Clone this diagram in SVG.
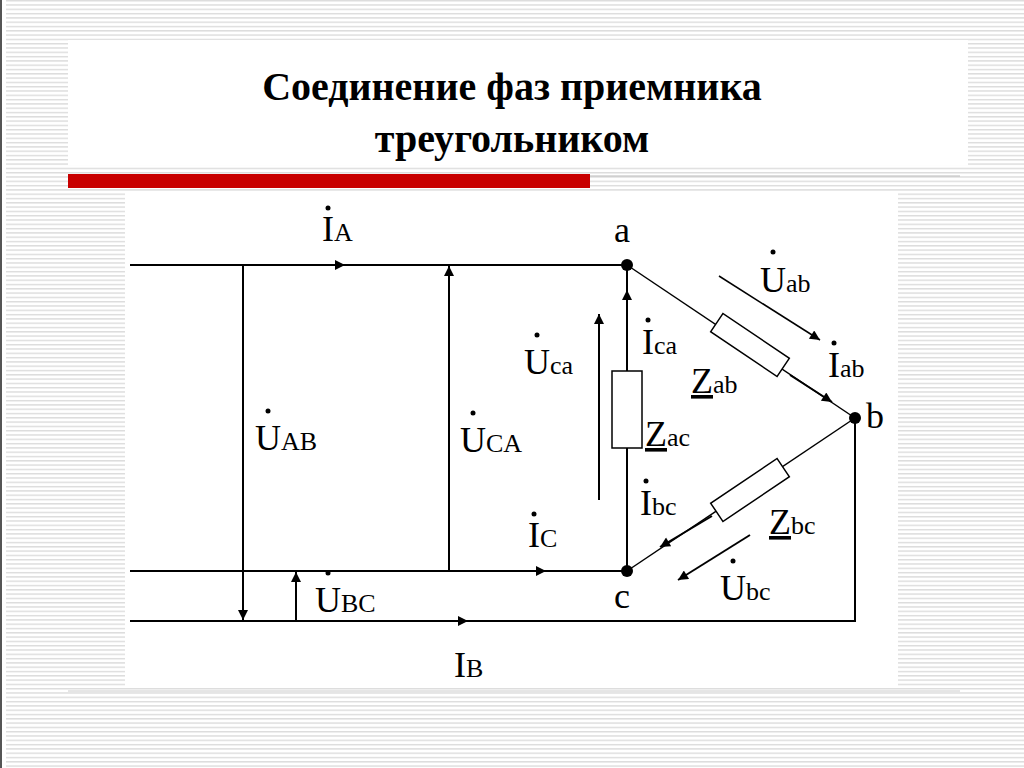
<svg xmlns="http://www.w3.org/2000/svg" width="1024" height="768" viewBox="0 0 1024 768">
<defs>
<pattern id="hatch" width="8" height="4.3" patternUnits="userSpaceOnUse"><rect width="8" height="4.3" fill="#fff"/><rect y="0" width="8" height="1.4" fill="#dcdcdc"/></pattern>
<marker id="ah" viewBox="0 0 10 10" refX="10" refY="5" markerWidth="14" markerHeight="10" markerUnits="userSpaceOnUse" orient="auto"><path d="M0,0 L10,5 L0,10 Z" fill="#000"/></marker>
<style>
.w{stroke:#000;stroke-width:2;fill:none}
.t{stroke:#000;stroke-width:1.5;fill:none}
.r{stroke:#000;stroke-width:1.5;fill:#fff}
.s{font-size:26px}
</style>
</defs>
<rect width="1024" height="768" fill="url(#hatch)"/>
<rect x="0" y="0" width="6" height="768" fill="#fff"/>
<rect x="0" y="0" width="2" height="768" fill="#555"/>
<rect x="68" y="40" width="900" height="125" fill="#fff"/>
<g font-family="Liberation Serif, 'Times New Roman', serif" font-size="40" font-weight="bold" text-anchor="middle" fill="#000">
<text x="512" y="100">Соединение фаз приемника</text>
<text x="512" y="152">треугольником</text>
</g>
<line x1="68" y1="176" x2="960" y2="176" stroke="#bbb" stroke-width="1"/>
<rect x="68" y="174" width="522" height="14" fill="#c80000"/>
<rect x="125" y="192" width="773" height="494" fill="#fff"/>
<line x1="68" y1="691" x2="960" y2="691" stroke="#ccc" stroke-width="1"/>
<g id="connectors">
<line class="w" x1="130" y1="265" x2="627" y2="265"/>
<line class="w" x1="130" y1="571" x2="627" y2="571"/>
<polyline class="w" points="130,621 855,621 855,418"/>
<line class="w" x1="627" y1="265" x2="627" y2="571"/>
<line class="t" x1="627" y1="265" x2="855" y2="418"/>
<line class="t" x1="855" y1="418" x2="627" y2="571"/>
<line class="w" x1="320" y1="265" x2="345" y2="265" marker-end="url(#ah)"/>
<line class="w" x1="520" y1="571" x2="546" y2="571" marker-end="url(#ah)"/>
<line class="w" x1="440" y1="621" x2="468" y2="621" marker-end="url(#ah)"/>
<line class="w" x1="627" y1="310" x2="627" y2="290" marker-end="url(#ah)"/>
<line class="w" x1="243" y1="265" x2="243" y2="620" marker-end="url(#ah)"/>
<line class="w" x1="449" y1="571" x2="449" y2="266" marker-end="url(#ah)"/>
<line class="w" x1="296" y1="621" x2="296" y2="572" marker-end="url(#ah)"/>
<line class="w" x1="599" y1="500" x2="599" y2="314" marker-end="url(#ah)"/>
<line class="t" x1="719" y1="276" x2="820" y2="340" marker-end="url(#ah)"/>
<line class="w" x1="790" y1="375" x2="832" y2="402" marker-end="url(#ah)"/>
<line class="w" x1="712" y1="516" x2="660" y2="547" marker-end="url(#ah)"/>
<line class="w" x1="750" y1="535" x2="678" y2="580" marker-end="url(#ah)"/>
</g>
<g id="Zab"><rect class="r" x="-40" y="-11" width="80" height="22" transform="translate(750,345) rotate(33.9)"/></g>
<g id="Zbc"><rect class="r" x="-40" y="-11" width="80" height="22" transform="translate(750,490) rotate(-33.9)"/></g>
<g id="Zac"><rect class="r" x="612" y="371" width="30" height="77"/></g>
<g id="nodes">
<circle cx="627" cy="265" r="6"/><circle cx="855" cy="418" r="6"/><circle cx="627" cy="571" r="6"/>
</g>
<g id="labels" font-family="Liberation Serif, 'Times New Roman', serif" font-size="36" fill="#000">
<text x="614" y="242">a</text>
<text x="866" y="428">b</text>
<text x="614" y="608">c</text>
<text x="322" y="241">I<tspan class="s">A</tspan></text><circle cx="328" cy="208" r="2.5"/>
<text x="528" y="547">I<tspan class="s">C</tspan></text><circle cx="534" cy="514" r="2.5"/>
<text x="454" y="677">I<tspan class="s">B</tspan></text>
<text x="255" y="450">U<tspan class="s">AB</tspan></text><circle cx="268" cy="411" r="2.5"/>
<text x="460" y="452">U<tspan class="s">CA</tspan></text><circle cx="473" cy="413" r="2.5"/>
<text x="315" y="612">U<tspan class="s">BC</tspan></text><circle cx="328" cy="573" r="2.5"/>
<text x="524" y="374">U<tspan class="s">ca</tspan></text><circle cx="537" cy="335" r="2.5"/>
<text x="642" y="354">I<tspan class="s">ca</tspan></text><circle cx="648" cy="320" r="2.5"/>
<text x="760" y="292">U<tspan class="s">ab</tspan></text><circle cx="773" cy="252" r="2.5"/>
<text x="828" y="377">I<tspan class="s">ab</tspan></text><circle cx="834" cy="343" r="2.5"/>
<text x="691" y="393"><tspan text-decoration="underline">Z</tspan><tspan class="s">ab</tspan></text>
<text x="645" y="446"><tspan text-decoration="underline">Z</tspan><tspan class="s">ac</tspan></text>
<text x="640" y="515">I<tspan class="s">bc</tspan></text><circle cx="646" cy="481" r="2.5"/>
<text x="769" y="534"><tspan text-decoration="underline">Z</tspan><tspan class="s">bc</tspan></text>
<text x="720" y="600">U<tspan class="s">bc</tspan></text><circle cx="733" cy="561" r="2.5"/>
</g>
</svg>
